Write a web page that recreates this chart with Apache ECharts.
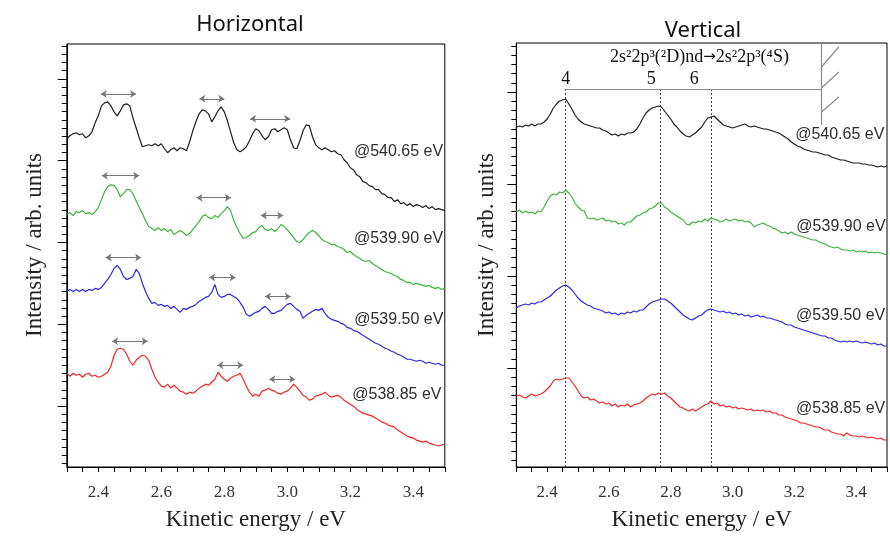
<!DOCTYPE html>
<html>
<head>
<meta charset="utf-8">
<title>Horizontal / Vertical</title>
<script src="https://cdn.jsdelivr.net/npm/echarts@6.0.0/dist/echarts.min.js"></script>
<style>
  html, body { margin: 0; padding: 0; background: #fff; }
  #chart { width: 890px; height: 536px; }
</style>
</head>
<body>
<div id="chart"></div>
<script>
// kinetic energy sampling, 2.30 .. 3.50 eV, 0.01 eV step (121 points)
const energy = [];
for (let i = 0; i <= 120; i++) energy.push(+(2.3 + i * 0.01).toFixed(2));

const photonLabels = ["@540.65 eV", "@539.90 eV", "@539.50 eV", "@538.85 eV"];
const lineColors = ["#1e1e1e", "#3cb43c", "#2a2ae0", "#f02626"];

// ---- Horizontal polarisation (arb. units, already offset) ----
const hor54065 = [
  329, 332, 334, 335, 333, 334, 330, 332, 336, 345,
  352, 362, 365, 366, 362, 356, 352, 357, 363, 364,
  362, 350, 340, 330, 321, 322, 323, 322, 324, 322,
  324, 319, 315, 318, 320, 317, 320, 319, 317, 326,
  337, 346, 354, 358, 357, 354, 346, 351, 357, 361,
  356, 347, 336, 325, 318, 316, 318, 321, 327, 334,
  339, 337, 332, 328, 331, 338, 339, 336, 338, 340,
  338, 328, 320, 319, 327, 337, 343, 342, 331, 323,
  320, 318, 320, 318, 316, 317, 314, 313, 308, 305,
  300, 298, 293, 291, 286, 285, 282, 281, 278, 278,
  274, 273, 270, 270, 266, 268, 264, 265, 262, 264,
  261, 263, 262, 260, 262, 259, 261, 258, 259, 258, 257
];
const hor53990 = [
  253, 255, 252, 256, 255, 257, 254, 255, 253, 256,
  260, 268, 276, 281, 283, 282, 278, 271, 274, 278,
  278, 274, 267, 260, 254, 247, 241, 239, 237, 240,
  237, 239, 236, 238, 233, 235, 237, 235, 232, 234,
  238, 242, 246, 251, 253, 250, 249, 252, 250, 254,
  257, 261, 257, 247, 240, 234, 229, 230, 232, 235,
  236, 240, 242, 238, 237, 239, 236, 239, 243, 241,
  238, 234, 230, 226, 225, 228, 232, 235, 237, 235,
  232, 228, 226, 225, 223, 223, 221, 220, 218, 215,
  216, 213, 211, 209, 207, 206, 207, 204, 202, 200,
  198, 196, 195, 194, 192, 191, 188, 187, 185, 185,
  183, 184, 183, 182, 181, 182, 180, 179, 180, 178, 179
];
const hor53950 = [
  176, 178, 176, 178, 176, 178, 176, 178, 177, 179,
  178, 180, 184, 188, 193, 199, 202, 198, 191, 188,
  189, 191, 198, 194, 184, 176, 169, 164, 165, 162,
  163, 161, 162, 159, 161, 158, 155, 159, 158, 160,
  161, 163, 166, 168, 170, 171, 175, 183, 173, 170,
  171, 173, 173, 171, 169, 165, 160, 153, 151, 153,
  155, 156, 159, 161, 158, 154, 154, 156, 157, 160,
  163, 164, 161, 158, 156, 149, 152, 154, 156, 158,
  157, 159, 154, 150, 148, 147, 146, 144, 143, 140,
  139, 137, 136, 134, 132, 130, 128, 126, 124, 123,
  121, 119, 118, 116, 115, 113, 112, 110, 108, 108,
  107, 106, 107, 106, 104, 105, 104, 103, 104, 102, 102
];
const hor53885 = [
  94, 91, 94, 92, 93, 90, 93, 94, 91, 92,
  90, 91, 93, 95, 101, 112, 118, 119, 118, 113,
  106, 102, 107, 110, 112, 111, 107, 98, 90, 85,
  81, 80, 83, 79, 82, 79, 76, 75, 73, 75,
  74, 76, 79, 81, 83, 82, 85, 88, 95, 91,
  88, 86, 89, 91, 92, 94, 88, 81, 75, 71,
  73, 71, 76, 77, 79, 77, 76, 74, 73, 75,
  76, 79, 83, 80, 76, 72, 70, 67, 68, 71,
  72, 73, 75, 72, 70, 71, 72, 70, 67, 65,
  63, 61, 58, 56, 54, 53, 52, 51, 49, 47,
  45, 44, 42, 41, 40, 37, 35, 33, 31, 30,
  29, 27, 26, 25, 26, 24, 23, 22, 21, 22, 23
];

// ---- Vertical polarisation ----
const ver54065 = [
  340, 341, 340, 342, 341, 343, 341, 343, 343, 345,
  348, 353, 359, 363, 366, 367, 368, 363, 358, 352,
  348, 345, 343, 342, 341, 340, 339, 339, 337, 336,
  334, 332, 333, 331, 333, 332, 334, 334, 335, 338,
  343, 349, 354, 357, 359, 360, 361, 360, 356, 352,
  348, 343, 340, 336, 333, 331, 330, 332, 334, 337,
  340, 345, 349, 350, 351, 348, 345, 342, 341, 340,
  339, 340, 341, 342, 343, 341, 340, 341, 340, 339,
  338, 338, 337, 336, 335, 334, 332, 330, 328, 325,
  323, 321, 320, 318, 317, 316, 315, 315, 314, 313,
  312, 312, 310, 309, 308, 307, 307, 306, 305, 304,
  304, 304, 303, 303, 302, 302, 301, 300, 301, 300, 301
];
const ver53990 = [
  255, 257, 254, 256, 254, 255, 253, 256, 255, 260,
  266, 271, 273, 272, 275, 274, 277, 274, 270, 264,
  260, 257, 256, 249, 248, 249, 247, 248, 249, 246,
  247, 245, 246, 243, 244, 242, 245, 245, 248, 251,
  252, 254, 255, 258, 259, 261, 264, 264, 260, 258,
  255, 253, 251, 249, 247, 243, 242, 245, 244, 246,
  245, 248, 246, 249, 248, 247, 245, 246, 248, 246,
  247, 248, 246, 247, 245, 246, 244, 240, 242, 243,
  244, 242, 241, 239, 238, 236, 234, 235, 233, 235,
  233, 232, 231, 230, 229, 228, 227, 227, 225, 224,
  223, 221, 220, 219, 220, 218, 217, 217, 216, 217,
  215, 216, 215, 216, 214, 215, 214, 215, 214, 213, 212
];
const ver53950 = [
  159, 161, 162, 163, 162, 164, 163, 165, 165, 167,
  169, 171, 174, 177, 179, 181, 182, 180, 177, 173,
  169, 166, 164, 162, 161, 159, 158, 157, 156, 154,
  155, 153, 154, 152, 154, 153, 155, 154, 156, 155,
  157, 157, 160, 163, 165, 166, 167, 168, 168, 166,
  164, 161, 158, 155, 152, 150, 148, 147, 149, 151,
  152, 155, 157, 158, 157, 156, 155, 156, 154, 155,
  153, 154, 152, 153, 151, 152, 150, 151, 152, 150,
  151, 149, 149, 148, 147, 146, 145, 143, 142, 142,
  140, 139, 138, 137, 136, 135, 134, 133, 132, 131,
  131, 129, 129, 127, 126, 125, 126, 125, 126, 125,
  126, 125, 124, 125, 124, 123, 124, 122, 123, 121, 121
];
const ver53885 = [
  71, 72, 70, 69, 71, 73, 71, 72, 73, 75,
  78, 81, 86, 88, 87, 88, 89, 89, 85, 81,
  76, 71, 69, 70, 67, 68, 66, 64, 65, 63,
  64, 61, 63, 60, 62, 61, 63, 60, 62, 63,
  64, 66, 69, 71, 73, 72, 74, 73, 74, 71,
  69, 66, 63, 60, 59, 57, 56, 58, 56, 58,
  60, 62, 63, 66, 63, 64, 61, 62, 60, 61,
  59, 60, 58, 59, 58, 57, 58, 56, 57, 56,
  57, 55, 56, 54, 54, 52, 52, 50, 49, 48,
  47, 46, 44, 44, 43, 42, 41, 40, 40, 38,
  37, 37, 35, 34, 33, 33, 31, 34, 32, 31,
  31, 30, 31, 30, 29, 30, 29, 28, 29, 27, 27
];

// double arrows over the horizontal spectra: [from eV, to eV, level]
const arrowFrom = [[2.408, 2.721, 2.882], [2.411, 2.712, 2.916], [2.423, 2.752, 2.929], [2.444, 2.778, 2.943]];
const arrowTo = [[2.520, 2.800, 3.009], [2.530, 2.821, 2.987], [2.536, 2.836, 3.011], [2.557, 2.860, 3.025]];
const arrowLevel = [[374, 369, 349], [292, 270, 252], [210, 190, 171], [126, 102, 88]];

// where the photon-energy labels sit [eV, level]
const horLabelPos = [[3.353, 316], [3.353, 229], [3.354, 148], [3.348, 73]];
const verLabelPos = [[3.347, 332], [3.351, 240], [3.350, 151], [3.350, 58]];

// 2s2 2p3(2D)nd -> 2s2 2p3(4S) series markers
const rydbergN = ["4", "5", "6"];
const rydbergE = [2.457, 2.766, 2.931];
const rydbergLabelE = [2.460, 2.737, 2.876];
const seriesLimitE = 3.288;

// y tick positions (arb. units)
const horMajorTicks = [61, 143, 225, 307, 389];
const verMajorTicks = [99, 191, 283, 375];
function minorTicks(start, step, max) {
  const arr = [];
  for (let v = start; v <= max; v += step) arr.push(+v.toFixed(1));
  return arr;
}
const horMinorTicks = minorTicks(3.6, 8.2, 424);
const verMinorTicks = minorTicks(7, 9.2, 424);

const serif = "Liberation Serif";
const pairs = (arr) => energy.map((e, i) => [e, arr[i]]);

function xAxisCfg(grid) {
  return {
    gridIndex: grid,
    type: "value",
    min: 2.3,
    max: 3.5,
    interval: 0.05,
    axisLine: { lineStyle: { color: "#000", width: 1 } },
    axisTick: { length: 5, lineStyle: { color: "#000" } },
    axisLabel: {
      margin: 17,
      fontFamily: serif,
      fontSize: 17,
      color: "#333",
      formatter: function (v) {
        return Math.round(v * 100) % 20 === 0 ? v.toFixed(1) : "";
      }
    },
    splitLine: { show: false },
    name: "Kinetic energy / eV",
    nameLocation: "middle",
    nameGap: 41,
    nameTextStyle: { fontFamily: serif, fontSize: 23, color: "#222" }
  };
}
function yAxisCfg(grid, ticks, len, showLine) {
  return {
    gridIndex: grid,
    type: "value",
    position: "left",
    min: 0,
    max: 424,
    axisLine: { show: showLine, lineStyle: { color: "#000" } },
    axisTick: { show: true, length: len, customValues: ticks, lineStyle: { color: "#000" } },
    axisLabel: { show: false },
    splitLine: { show: false }
  };
}

const series = [];
const spectra = [[hor54065, hor53990, hor53950, hor53885], [ver54065, ver53990, ver53950, ver53885]];
spectra.forEach((group, g) => {
  group.forEach((arr, i) => {
    series.push({
      type: "line",
      xAxisIndex: g,
      yAxisIndex: g * 2,
      data: pairs(arr),
      showSymbol: false,
      lineStyle: { color: lineColors[i], width: 1.2 },
      z: 3
    });
  });
});

// arrows
const arrowData = [];
arrowFrom.forEach((row, i) => {
  row.forEach((x0, j) => {
    arrowData.push({ coords: [[x0, arrowLevel[i][j]], [arrowTo[i][j], arrowLevel[i][j]]] });
  });
});
series.push({
  type: "lines",
  coordinateSystem: "cartesian2d",
  xAxisIndex: 0,
  yAxisIndex: 0,
  symbol: ["arrow", "arrow"],
  symbolSize: 6,
  lineStyle: { color: "#777", width: 1.2, opacity: 1 },
  data: arrowData,
  z: 4
});

// photon energy labels
function labelSeries(xIdx, yIdx, pos) {
  return {
    type: "scatter",
    xAxisIndex: xIdx,
    yAxisIndex: yIdx,
    symbolSize: 0,
    silent: true,
    itemStyle: { color: "#222", opacity: 1 },
    label: {
      show: true,
      position: "inside",
      formatter: "{b}",
      fontFamily: "Liberation Sans",
      fontSize: 16,
      color: "#2e2e2e",
      opacity: 1,
      textBorderWidth: 0
    },
    data: pos.map((p, i) => ({ name: photonLabels[i], value: p })),
    z: 5
  };
}
series.push(labelSeries(0, 0, horLabelPos));
series.push(labelSeries(1, 2, verLabelPos));

// Rydberg markers on the vertical panel
const bracketLevel = 378;
series.push({
  type: "lines",
  coordinateSystem: "cartesian2d",
  xAxisIndex: 1,
  yAxisIndex: 2,
  lineStyle: { color: "#444", width: 1, type: [2, 2], opacity: 1 },
  data: rydbergE.map((e) => ({ coords: [[e, bracketLevel], [e, 0]] })),
  z: 2
});
series.push({
  type: "lines",
  coordinateSystem: "cartesian2d",
  xAxisIndex: 1,
  yAxisIndex: 2,
  lineStyle: { color: "#8a8a8a", width: 1.2, opacity: 1 },
  data: [
    { coords: [[rydbergE[0], bracketLevel], [seriesLimitE, bracketLevel]] },
    { coords: [[seriesLimitE, 342], [seriesLimitE, 424]] },
    { coords: [[seriesLimitE, 400], [3.344, 420]] },
    { coords: [[seriesLimitE, 379], [3.344, 395]] },
    { coords: [[seriesLimitE, 355], [3.344, 370]] }
  ],
  z: 2
});
series.push({
  type: "scatter",
  xAxisIndex: 1,
  yAxisIndex: 2,
  symbolSize: 0,
  silent: true,
  itemStyle: { color: "#111", opacity: 1 },
  label: {
    show: true,
    position: "inside",
    formatter: "{b}",
    fontFamily: serif,
    fontSize: 18,
    color: "#111",
    opacity: 1,
    textBorderWidth: 0,
    rich: { arr: { fontFamily: "DejaVu Sans", fontSize: 15, color: "#111", textBorderWidth: 0 } }
  },
  data: rydbergN.map((n, i) => ({ name: n, value: [rydbergLabelE[i], 388] }))
    .concat([{
      name: "heading",
      value: [2.893, 410],
      label: { formatter: "2s\u00b22p\u00b3(\u00b2D)nd{arr|\u2192}2s\u00b22p\u00b3(\u2074S)" }
    }]),
  z: 5
});

const chart = echarts.init(document.getElementById("chart"));
chart.setOption({
  backgroundColor: "#fff",
  animation: false,
  grid: [
    { left: 66.8, top: 44, width: 378, height: 424, show: true, borderColor: "#000", borderWidth: 1 },
    { left: 516.3, top: 43, width: 372, height: 424, show: true, borderColor: "#000", borderWidth: 1 }
  ],
  xAxis: [xAxisCfg(0), xAxisCfg(1)],
  yAxis: [
    yAxisCfg(0, horMajorTicks, 9, true),
    yAxisCfg(0, horMinorTicks, 5, false),
    yAxisCfg(1, verMajorTicks, 9, true),
    yAxisCfg(1, verMinorTicks, 5, false)
  ],
  graphic: [
    { type: "text", x: 250, y: 25, style: { text: "Horizontal", font: "22px 'Noto Sans'", fill: "#111", align: "center", verticalAlign: "middle" } },
    { type: "text", x: 703, y: 31, style: { text: "Vertical", font: "22px 'Noto Sans'", fill: "#111", align: "center", verticalAlign: "middle" } },
    { type: "text", x: 35, y: 245, rotation: Math.PI / 2, style: { text: "Intensity / arb. units", font: "23px 'Liberation Serif'", fill: "#222", align: "center", verticalAlign: "middle" } },
    { type: "text", x: 487, y: 245, rotation: Math.PI / 2, style: { text: "Intensity / arb. units", font: "23px 'Liberation Serif'", fill: "#222", align: "center", verticalAlign: "middle" } }
  ],
  series: series
});
</script>
</body>
</html>
